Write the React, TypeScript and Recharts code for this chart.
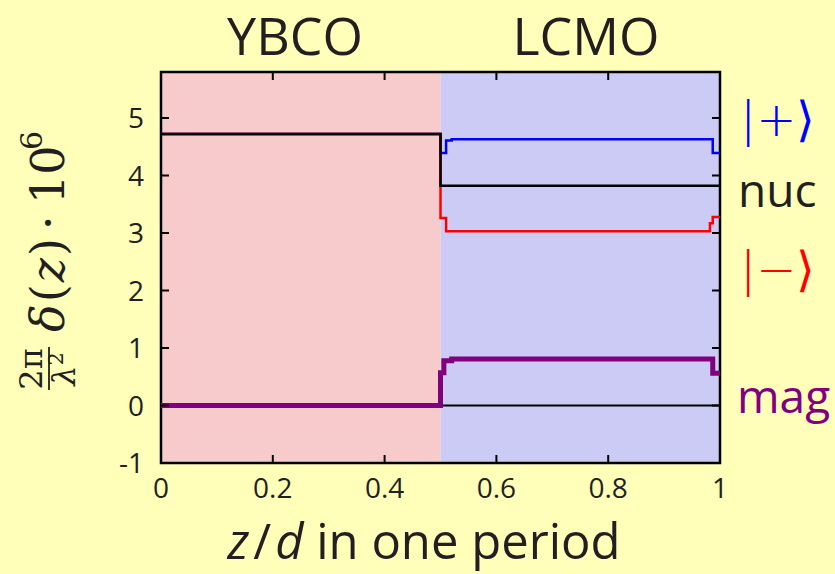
import React from "react";
import {
  ComposedChart,
  Line,
  ReferenceArea,
  XAxis,
  YAxis,
} from "recharts";

// step profiles across one superlattice period (z/d), value = 2π/λ² δ(z) · 10^6
const nucZ = [0, 0.5, 1];
const nucV = [4.72, 3.82, 3.82];

const plusZ = [0, 0.5, 0.51, 0.52, 0.987, 1];
const plusV = [4.72, 4.39, 4.61, 4.63, 4.39, 4.39];

const minusZ = [0, 0.5, 0.51, 0.982, 0.987, 1];
const minusV = [4.72, 3.26, 3.03, 3.17, 3.28, 3.28];

const magZ = [0, 0.5, 0.506, 0.52, 0.987, 1];
const magV = [0, 0.57, 0.78, 0.81, 0.56, 0.56];

const zeroZ = [0, 1];
const zeroV = [0, 0];

const xTicks = [0, 0.2, 0.4, 0.6, 0.8, 1];
const yTicks = [-1, 0, 1, 2, 3, 4, 5];

const W = 835;
const H = 574;
const PLOT_LEFT = 161;
const PLOT_RIGHT = 720;
const PLOT_TOP = 72;
const PLOT_BOTTOM = 463;
const TICK_LEN = 8;

const BG = "#ffffb9";
const YBCO_FILL = "#f7cbcc";
const LCMO_FILL = "#cbcbf6";
const TEXT = "#231f20";
const SANS = "'Open Sans', 'DejaVu Sans', sans-serif";
const SERIF = "'DejaVu Serif', 'Liberation Serif', serif";

const toPoints = (z: number[], v: number[]) => z.map((zz, i) => ({ z: zz, v: v[i] }));

function XTick(props: any) {
  const { x, payload } = props;
  return (
    <g>
      <line x1={x} x2={x} y1={PLOT_BOTTOM} y2={PLOT_BOTTOM - TICK_LEN} stroke="#000" strokeWidth={2} />
      <line x1={x} x2={x} y1={PLOT_TOP} y2={PLOT_TOP + TICK_LEN} stroke="#000" strokeWidth={2} />
      <text x={x} y={PLOT_BOTTOM + 35} textAnchor="middle" fontFamily={SANS} fontSize={28} fill={TEXT}>
        {String(payload.value)}
      </text>
    </g>
  );
}

function YTick(props: any) {
  const { y, payload } = props;
  return (
    <g>
      <line x1={PLOT_LEFT} x2={PLOT_LEFT + TICK_LEN} y1={y} y2={y} stroke="#000" strokeWidth={2} />
      <line x1={PLOT_RIGHT} x2={PLOT_RIGHT - TICK_LEN} y1={y} y2={y} stroke="#000" strokeWidth={2} />
      <text x={PLOT_LEFT - 17} y={y} dy="0.36em" textAnchor="end" fontFamily={SANS} fontSize={28} fill={TEXT}>
        {String(payload.value)}
      </text>
    </g>
  );
}

export default function App() {
  return (
    <div style={{ position: "relative", width: W, height: H, background: BG }}>
      <style>{"body{margin:0}"}</style>
      <ComposedChart
        width={W}
        height={H}
        margin={{ top: PLOT_TOP, right: W - PLOT_RIGHT, left: 0, bottom: 0 }}
      >
        <ReferenceArea x1={0} x2={0.5} y1={-1} y2={5.8} fill={YBCO_FILL} fillOpacity={1} stroke="none" />
        <ReferenceArea x1={0.5} x2={1} y1={-1} y2={5.8} fill={LCMO_FILL} fillOpacity={1} stroke="none" />
        <XAxis
          type="number"
          dataKey="z"
          domain={[0, 1]}
          ticks={xTicks}
          height={H - PLOT_BOTTOM}
          axisLine={false}
          tickLine={false}
          tickSize={0}
          tick={(p: any) => <XTick {...p} />}
          allowDataOverflow
        />
        <YAxis
          type="number"
          domain={[-1, 5.8]}
          ticks={yTicks}
          width={PLOT_LEFT}
          axisLine={false}
          tickLine={false}
          tickSize={0}
          tick={(p: any) => <YTick {...p} />}
          allowDataOverflow
        />
        <Line data={toPoints(zeroZ, zeroV)} dataKey="v" type="stepAfter" stroke="#000" strokeWidth={2.2} dot={false} isAnimationActive={false} />
        <Line data={toPoints(plusZ, plusV)} dataKey="v" type="stepAfter" stroke="#0000ff" strokeWidth={2.5} dot={false} isAnimationActive={false} />
        <Line data={toPoints(minusZ, minusV)} dataKey="v" type="stepAfter" stroke="#ff0000" strokeWidth={2.5} dot={false} isAnimationActive={false} />
        <Line data={toPoints(nucZ, nucV)} dataKey="v" type="stepAfter" stroke="#000" strokeWidth={2.5} dot={false} isAnimationActive={false} />
        <Line data={toPoints(magZ, magV)} dataKey="v" type="stepAfter" stroke="#800080" strokeWidth={5} dot={false} isAnimationActive={false} />
        <ReferenceArea x1={0} x2={1} y1={-1} y2={5.8} fill="none" stroke="#000" strokeWidth={2.5} />
      </ComposedChart>

      <svg width={W} height={H} style={{ position: "absolute", left: 0, top: 0, pointerEvents: "none" }}>
        <text x={295} y={55} textAnchor="middle" fontFamily={SANS} fontSize={52} fill={TEXT}>YBCO</text>
        <text x={586} y={55} textAnchor="middle" fontFamily={SANS} fontSize={52} fill={TEXT}>LCMO</text>

        <text x={424} y={559} textAnchor="middle" fontFamily={SANS} fontSize={49} fill={TEXT}>
          <tspan fontStyle="italic">z</tspan>
          <tspan dx={4}>/</tspan>
          <tspan dx={4} fontStyle="italic">d</tspan>
          <tspan> in one period</tspan>
        </text>

        <text x={740} y={136} fontFamily="'DejaVu Sans', sans-serif" fontSize={48} fontWeight={200} fill="#0000ff">|+⟩</text>
        <text x={738} y={207} fontFamily={SANS} fontSize={46} fill={TEXT}>nuc</text>
        <text x={740} y={286} fontFamily="'DejaVu Sans', sans-serif" fontSize={48} fontWeight={200} fill="#ff0000">|−⟩</text>
        <text x={737} y={413} fontFamily={SANS} fontSize={46} fill="#800080">mag</text>

        {/* y-axis label: 2π/λ² δ(z) · 10⁶, rotated to read bottom-up */}
        <g transform="translate(64, 390) rotate(-90)" fill={TEXT}>
          <text x={21} y={-22} textAnchor="middle" style={{ fontFamily: SERIF, fontSize: 32 }}>2π</text>
          <line x1={0} x2={43} y1={-15} y2={-15} stroke={TEXT} strokeWidth={1.8} />
          <text x={21} y={11} textAnchor="middle" style={{ fontFamily: SERIF, fontSize: 32 }}>
            <tspan fontStyle="italic">λ</tspan>
            <tspan dy={-12} style={{ fontSize: 21 }}>2</tspan>
          </text>
          <text x={58} y={0} style={{ fontFamily: SERIF, fontSize: 46 }}>
            <tspan fontStyle="italic">δ</tspan>
            <tspan dx={2}>(</tspan>
            <tspan dx={2} fontStyle="italic">z</tspan>
            <tspan dx={2}>)</tspan>
          </text>
          <text x={160} y={0} style={{ fontFamily: SERIF, fontSize: 46 }}>·</text>
          <text x={186} y={0} style={{ fontFamily: SERIF, fontSize: 46 }}>10</text>
          <text x={240} y={-22} style={{ fontFamily: SERIF, fontSize: 30 }}>6</text>
        </g>
      </svg>
    </div>
  );
}
